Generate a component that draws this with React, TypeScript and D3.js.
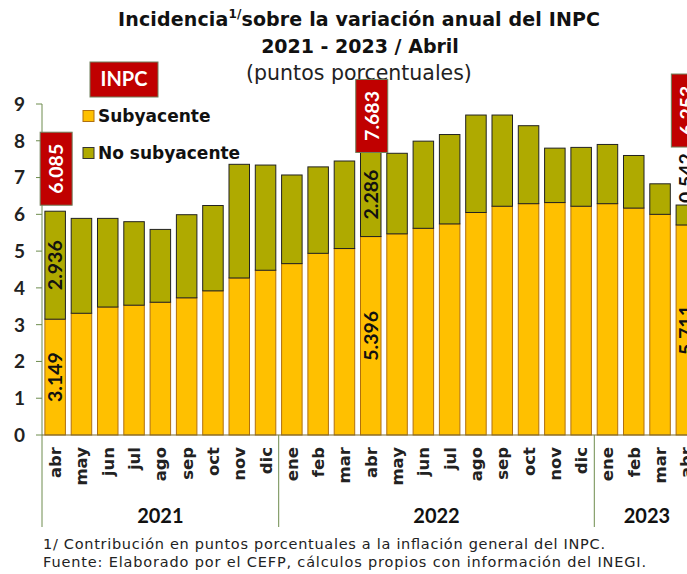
import React, { useEffect, useRef } from "react";
import * as d3 from "d3";

// abr 2021 - abr 2023
const months = [
  "abr", "may", "jun", "jul", "ago", "sep", "oct", "nov", "dic",
  "ene", "feb", "mar", "abr", "may", "jun", "jul", "ago", "sep", "oct", "nov", "dic",
  "ene", "feb", "mar", "abr",
];
const yearLabels = ["2021", "2022", "2023"];
const yearFirst = [0, 9, 21];
const yearLast = [8, 20, 24];

const subyacente = [
  3.149, 3.31, 3.48, 3.53, 3.61, 3.73, 3.92, 4.27, 4.48,
  4.66, 4.94, 5.07, 5.396, 5.47, 5.62, 5.74, 6.05, 6.22, 6.29, 6.32, 6.22,
  6.29, 6.17, 6.0, 5.711,
];
const noSubyacente = [
  2.936, 2.58, 2.41, 2.27, 1.98, 2.26, 2.32, 3.09, 2.86,
  2.41, 2.35, 2.38, 2.286, 2.19, 2.37, 2.43, 2.65, 2.48, 2.12, 1.48, 1.6,
  1.61, 1.43, 0.83, 0.542,
];

// highlighted months (abril de cada año)
const labelIndex = [0, 12, 24];
const inpcLabels = ["6.085", "7.683", "6.253"];
const subLabels = ["3.149", "5.396", "5.711"];
const noSubLabels = ["2.936", "2.286", "0.542"];

const yTicks = [0, 1, 2, 3, 4, 5, 6, 7, 8, 9];

const SUB = "#FFC000";
const NOSUB = "#AFAA00";
const RED = "#C00000";
const AXIS = "#6E8C4E";
const lato = "Lato, 'DejaVu Sans', sans-serif";
const dejavu = "'DejaVu Sans', Lato, sans-serif";

const App = () => {
  const ref = useRef<SVGSVGElement>(null);

  useEffect(() => {
    const svg = d3.select(ref.current);
    svg.selectAll("*").remove();

    const left = 42;
    const step = 26.3;
    const x = d3
      .scaleBand()
      .domain(months.map((_, i) => String(i)))
      .range([left, left + step * months.length])
      .paddingInner(0.22)
      .paddingOuter(0.11);
    const y = d3.scaleLinear().domain([0, 9]).range([435, 104]);

    const rows = months.map((m, i) => ({ i: String(i), sub: subyacente[i], noSub: noSubyacente[i] }));
    const series = d3.stack().keys(["sub", "noSub"])(rows as any);

    // title
    const title = svg.append("g").attr("font-family", dejavu).attr("font-weight", "bold").attr("fill", "#111");
    const t1 = title.append("text").attr("x", 359).attr("y", 26).attr("text-anchor", "middle").attr("font-size", 19)
      .attr("textLength", 482);
    t1.append("tspan").text("Incidencia");
    t1.append("tspan").attr("font-size", 12).attr("dy", -8).text("1/");
    t1.append("tspan").attr("dy", 8).text("sobre la variación anual del INPC");
    title.append("text").attr("x", 360).attr("y", 53).attr("text-anchor", "middle").attr("font-size", 19).text("2021 - 2023 / Abril");
    svg.append("text").attr("x", 359).attr("y", 80).attr("text-anchor", "middle")
      .attr("font-family", dejavu).attr("font-size", 20.5).attr("fill", "#222")
      .text("(puntos porcentuales)");

    // bars
    const colors = [SUB, NOSUB];
    const strokes = ["#B07010", "#222"];
    series.forEach((s, k) => {
      svg.append("g")
        .selectAll("rect")
        .data(s)
        .join("rect")
        .attr("x", (d: any) => x(d.data.i)!)
        .attr("width", x.bandwidth())
        .attr("y", (d) => y(d[1]))
        .attr("height", (d) => y(d[0]) - y(d[1]))
        .attr("fill", colors[k])
        .attr("stroke", strokes[k])
        .attr("stroke-width", 1);
    });

    // y axis
    svg.append("line").attr("x1", left).attr("x2", left).attr("y1", y(9)).attr("y2", 527).attr("stroke", AXIS);
    const yt = svg.append("g");
    yTicks.forEach((t) => {
      yt.append("line").attr("x1", left - 6).attr("x2", left).attr("y1", y(t)).attr("y2", y(t)).attr("stroke", AXIS);
      yt.append("text").attr("x", 25).attr("y", y(t)).attr("dy", "0.36em").attr("text-anchor", "end")
        .attr("font-family", lato).attr("font-weight", "bold").attr("font-size", 19).attr("fill", "#222").text(t);
    });
    svg.append("line").attr("x1", left).attr("x2", 687).attr("y1", y(0)).attr("y2", y(0)).attr("stroke", "#7a6a30");

    // month labels
    svg.append("g").selectAll("text").data(months).join("text")
      .attr("transform", (d, i) => `translate(${x(String(i))! + x.bandwidth() / 2 + 6},447) rotate(-90)`)
      .attr("text-anchor", "end")
      .attr("font-family", dejavu).attr("font-weight", "bold").attr("font-size", 16.5).attr("fill", "#222")
      .text((d) => d);

    // year groups
    yearLabels.forEach((yl, k) => {
      const x0 = x(String(yearFirst[k]))! - x.step() * x.paddingOuter();
      const x1 = x0 + x.step() * (k === yearLabels.length - 1 ? 4 : yearLast[k] - yearFirst[k] + 1);
      svg.append("line").attr("x1", x1).attr("x2", x1).attr("y1", y(0)).attr("y2", 527).attr("stroke", AXIS);
      svg.append("text").attr("x", (x0 + x1) / 2).attr("y", 523).attr("text-anchor", "middle")
        .attr("font-family", lato).attr("font-weight", "bold").attr("font-size", 20).attr("fill", "#111").text(yl);
    });

    // value labels
    labelIndex.forEach((idx, k) => {
      const cx = x(String(idx))! + x.bandwidth() / 2;
      const ySub = y(subyacente[idx]);
      const yTop = y(subyacente[idx] + noSubyacente[idx]);
      const fs = 19.5;
      svg.append("text")
        .attr("transform", `translate(${cx + 7},${(y(0) + ySub) / 2}) rotate(-90)`)
        .attr("text-anchor", "middle").attr("font-family", lato).attr("font-size", fs)
        .attr("font-weight", "bold").attr("fill", "#111").text(subLabels[k]);
      const inside = ySub - yTop > 50;
      let boxBottom;
      if (inside) {
        svg.append("text")
          .attr("transform", `translate(${cx + 7},${(ySub + yTop) / 2}) rotate(-90)`)
          .attr("text-anchor", "middle").attr("font-family", lato).attr("font-size", fs)
          .attr("font-weight", "bold").attr("fill", "#111").text(noSubLabels[k]);
        boxBottom = yTop - (k === 0 ? 6 : 0);
      } else {
        svg.append("text")
          .attr("transform", `translate(${cx + 7},${yTop - 2}) rotate(-90)`)
          .attr("text-anchor", "start").attr("font-family", lato).attr("font-size", fs)
          .attr("font-weight", "bold").attr("fill", "#111").text(noSubLabels[k]);
        boxBottom = yTop - 58;
      }
      const bw = 32, bh = 73;
      svg.append("rect").attr("x", cx + 1 - bw / 2).attr("y", boxBottom - bh).attr("width", bw).attr("height", bh)
        .attr("fill", RED).attr("stroke", "#6f7f5a").attr("stroke-width", 1);
      svg.append("text")
        .attr("transform", `translate(${cx + 8},${boxBottom - bh / 2}) rotate(-90)`)
        .attr("text-anchor", "middle").attr("font-family", lato).attr("font-size", 19.5)
        .attr("font-weight", "bold").attr("fill", "#fff").text(inpcLabels[k]);
    });

    // INPC tag
    svg.append("rect").attr("x", 90).attr("y", 62).attr("width", 68).attr("height", 35)
      .attr("fill", RED).attr("stroke", "#6f7f5a");
    svg.append("text").attr("x", 124).attr("y", 86).attr("text-anchor", "middle")
      .attr("font-family", lato).attr("font-weight", "bold").attr("font-size", 20).attr("fill", "#fff").text("INPC");

    // legend
    const legend = [
      { name: "Subyacente", color: SUB, stroke: "#B07010", y: 116 },
      { name: "No subyacente", color: NOSUB, stroke: "#333", y: 153 },
    ];
    legend.forEach((l) => {
      svg.append("rect").attr("x", 83).attr("y", l.y - 5.5).attr("width", 11).attr("height", 11)
        .attr("fill", l.color).attr("stroke", l.stroke);
      svg.append("text").attr("x", 98).attr("y", l.y).attr("dy", "0.36em")
        .attr("font-family", dejavu).attr("font-weight", "bold").attr("font-size", 17)
        .attr("fill", "#111").text(l.name);
    });

    // notes
    svg.append("text").attr("x", 43).attr("y", 549).attr("font-family", dejavu).attr("font-size", 14.5).attr("fill", "#222")
      .attr("textLength", 562).text("1/ Contribución en puntos porcentuales a la inflación general del INPC.");
    svg.append("text").attr("x", 43).attr("y", 567).attr("font-family", dejavu).attr("font-size", 14.5).attr("fill", "#222")
      .attr("textLength", 603).text("Fuente: Elaborado por el CEFP, cálculos propios con información del INEGI.");
  }, []);

  return (
    <svg
      ref={ref}
      width={687}
      height={574}
      style={{ position: "absolute", left: 0, top: 0, background: "#fff" }}
    ></svg>
  );
};

export default App;
